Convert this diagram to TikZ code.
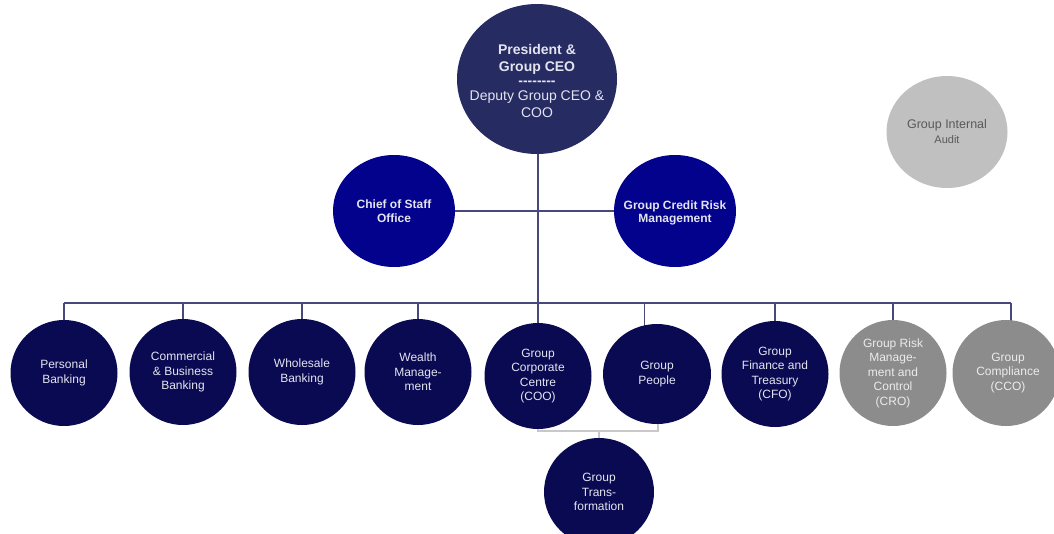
\documentclass[tikz,border=0pt]{standalone}
\usepackage{fontspec}
\setmainfont{Liberation Sans}
\usetikzlibrary{shapes.geometric,backgrounds}
\definecolor{topfill}{RGB}{38,43,98}
\definecolor{midfill}{RGB}{2,2,140}
\definecolor{botfill}{RGB}{10,10,82}
\definecolor{greyfill}{RGB}{140,140,140}
\definecolor{auditfill}{RGB}{192,192,192}
\definecolor{linecol}{RGB}{72,72,125}
\definecolor{lightline}{RGB}{200,200,200}
\definecolor{txtlight}{RGB}{228,228,240}
\tikzset{
  unit/.style={ellipse, inner sep=0pt},
  topunit/.style={unit, fill=topfill, minimum width=160pt, minimum height=150pt},
  midunit/.style={unit, fill=midfill, minimum width=122pt, minimum height=112pt},
  botunit/.style={unit, fill=botfill, minimum width=107pt, minimum height=106pt},
  bigbotunit/.style={unit, fill=botfill, minimum width=110pt, minimum height=108pt},
  greyunit/.style={unit, fill=greyfill, minimum width=107pt, minimum height=106pt},
  auditunit/.style={unit, fill=auditfill, minimum width=121pt, minimum height=112pt},
  lbl/.style={inner sep=0pt, align=center, text=txtlight},
  toplbl/.style={lbl, font=\fontsize{14}{17}\selectfont},
  midlbl/.style={lbl, font=\bfseries\fontsize{12}{13.5}\selectfont},
  botlbl/.style={lbl, font=\fontsize{12}{14.5}\selectfont},
  greylbl/.style={botlbl, text=white!92!black},
  auditlbl/.style={lbl, text=black!65, font=\fontsize{12.5}{15}\selectfont},
  conn/.style={draw=linecol, line width=1.6pt},
  tick/.style={draw=linecol, line width=1.4pt},
  softconn/.style={draw=lightline, line width=1.1pt}
}
\begin{document}
\begin{tikzpicture}[x=1pt,y=-1pt]
\useasboundingbox (0,0) rectangle (1054,533);
% shapes
\node[topunit] (ceo) at (537,79) {};
\node[midunit] (cos) at (394,211) {};
\node[midunit] (gcr) at (675,211) {};
\node[auditunit] (gia) at (947,132) {};
\node[botunit] (pb) at (64,373) {};
\node[botunit] (cbb) at (183,372) {};
\node[botunit] (wb) at (302,372) {};
\node[botunit] (wm) at (418,372) {};
\node[botunit] (gcc) at (538,376) {};
\node[botunit, minimum width=108pt, minimum height=100pt] (gp) at (657,374) {};
\node[botunit] (gft) at (775,374) {};
\node[greyunit] (grm) at (893,373) {};
\node[greyunit] (gco) at (1006,373) {};
\node[bigbotunit] (gt) at (599,492) {};
% labels
\node[toplbl] (ceo-t) at ([yshift=-2pt]ceo.center) {\textbf{President \&}\\\textbf{Group CEO}\\[-3pt]\textbf{-{}-{}-{}-{}-{}-{}-{}-}\\[-2pt]Deputy Group CEO \&\\COO};
\node[midlbl] (cos-t) at (cos.center) {Chief of Staff\\Office};
\node[midlbl] (gcr-t) at ([yshift=-2pt]gcr.center) {Group Credit Risk\\Management};
\node[auditlbl] (gia-t) at (gia.center) {Group Internal\\{\fontsize{11}{13}\selectfont Audit}};
\node[botlbl] (pb-t) at (pb.center) {Personal\\Banking};
\node[botlbl] (cbb-t) at (cbb.center) {Commercial\\\& Business\\Banking};
\node[botlbl] (wb-t) at (wb.center) {Wholesale\\Banking};
\node[botlbl] (wm-t) at (wm.center) {Wealth\\Manage-\\ment};
\node[botlbl] (gcc-t) at (gcc.center) {Group\\Corporate\\Centre\\(COO)};
\node[botlbl] (gp-t) at (gp.center) {Group\\People};
\node[botlbl] (gft-t) at (gft.center) {Group\\Finance and\\Treasury\\(CFO)};
\node[greylbl] (grm-t) at (grm.center) {Group Risk\\Manage-\\ment and\\Control\\(CRO)};
\node[greylbl] (gco-t) at ([xshift=2pt]gco.center) {Group\\Compliance\\(CCO)};
\node[botlbl] (gt-t) at (gt.center) {Group\\Trans-\\formation};
% coordinates
\coordinate (busL) at (64,303);
\coordinate (busR) at (1011,303);
\coordinate (busM) at (538,303);
\coordinate (gptick) at (644,335);
\coordinate (brL) at (538,431);
\coordinate (brR) at (658,431);
\coordinate (brM) at (599,431);
\begin{pgfonlayer}{background}
  \draw[conn] (busM |- ceo.center) -- (busM);
  \draw[conn] (cos.center) -- (gcr.center);
  \draw[conn] (busL) -- (busR);
  \foreach \n in {pb,cbb,wb,wm,gcc,gft,grm} {
    \draw[tick] (\n.center) -- (\n.center |- busM);
  }
  \draw[tick] (busR |- gco.center) -- (busR);
  \draw[tick, line width=1pt] (gptick) -- (gptick |- busM);
  \draw[softconn] (gcc.center) -- (brL) -- (brR) -- (brR |- gp.center);
  \draw[softconn] (brM) -- (gt.center);
\end{pgfonlayer}
\end{tikzpicture}
\end{document}
